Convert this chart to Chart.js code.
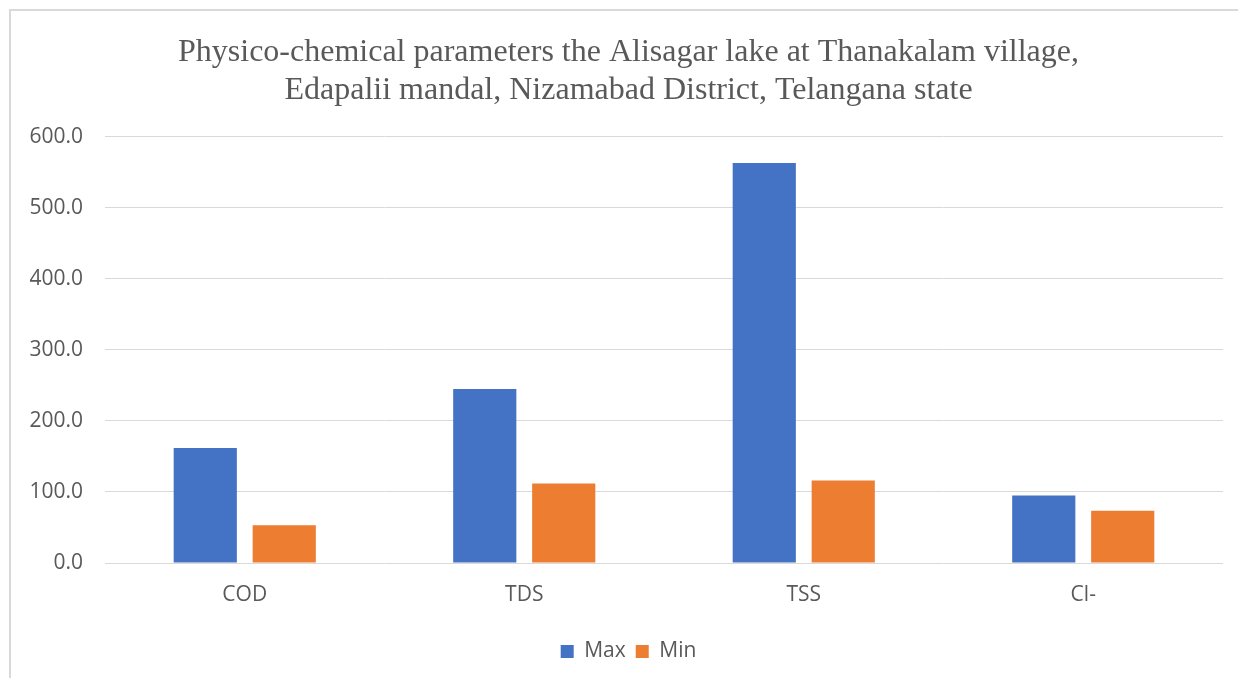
<!DOCTYPE html>
<html>
<head>
<meta charset="utf-8">
<script src="https://cdn.jsdelivr.net/npm/chart.js@4.4.1/dist/chart.umd.min.js"></script>
<style>
  html, body { margin: 0; padding: 0; background: #fff; }
  #wrap { position: relative; width: 1238px; height: 678px; overflow: hidden; }
  #frame { position: absolute; left: 9px; top: 9px; width: 1300px; height: 700px; border: 2px solid #d9d9d9; box-sizing: border-box; }
  canvas { position: absolute; left: 0; top: 0; }
</style>
</head>
<body>
<div id="wrap">
  <div id="frame"></div>
  <canvas id="c" width="1238" height="678"></canvas>
</div>
<script>
const categories = ["COD", "TDS", "TSS", "Cl-"];
const maxValues = [162, 245, 563, 95];
const minValues = [53, 112, 116, 73.5];
const titleLines = ["Physico-chemical parameters the Alisagar lake at Thanakalam village,", "Edapalii mandal, Nizamabad District, Telangana state"];
const yTicks = [0, 100, 200, 300, 400, 500, 600];

const textColor = "#595959";
const gridColor = "#d9d9d9";

new Chart(document.getElementById("c"), {
  type: "bar",
  data: {
    labels: categories,
    datasets: [
      { label: "Max", data: maxValues, backgroundColor: "#4472c4", categoryPercentage: 0.565, barPercentage: 0.8 },
      { label: "Min", data: minValues, backgroundColor: "#ed7d31", categoryPercentage: 0.565, barPercentage: 0.8 }
    ]
  },
  options: {
    responsive: false,
    animation: false,
    layout: { padding: { left: 20, right: 1, top: 0, bottom: 6 } },
    plugins: {
      title: {
        display: true,
        text: titleLines,
        color: textColor,
        font: { family: "Liberation Serif", size: 32, weight: "normal", lineHeight: 1.2 },
        padding: { top: 33, bottom: 27 }
      },
      legend: {
        position: "bottom",
        labels: { color: textColor, boxWidth: 13, boxHeight: 13, padding: 10, font: { family: "Open Sans", size: 21 } }
      },
      tooltip: { enabled: false }
    },
    scales: {
      x: {
        grid: { display: false, drawTicks: false },
        border: { display: false },
        ticks: { color: textColor, padding: 19, font: { family: "Open Sans", size: 21 } },
        afterFit: (s) => { s.height = 68; }
      },
      y: {
        min: 0, max: 600,
        afterBuildTicks: (s) => { s.ticks = yTicks.map(v => ({ value: v })); },
        grid: { color: gridColor, lineWidth: 1, drawTicks: false },
        border: { display: false },
        ticks: { color: textColor, padding: 22, font: { family: "Open Sans", size: 21 }, callback: (v) => Number(v).toFixed(1) },
        afterFit: (s) => { s.width = 85; }
      },
      ySpacer: {
        position: "right",
        min: 0, max: 600,
        grid: { display: false, drawTicks: false },
        border: { display: false },
        ticks: { display: false },
        afterFit: (s) => { s.width = 14; }
      }
    }
  }
});
</script>
</body>
</html>
